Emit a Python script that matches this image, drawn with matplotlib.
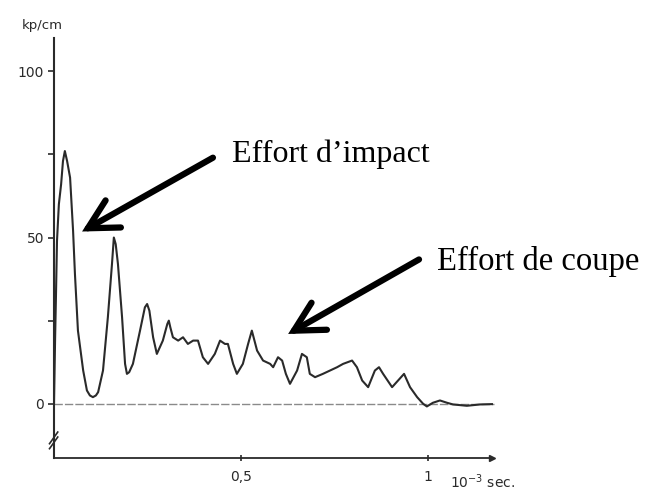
import matplotlib
matplotlib.use("Agg")
from matplotlib import pyplot as plt

temps = [0.000, 0.003, 0.005, 0.008, 0.013, 0.019, 0.024, 0.029, 0.035, 0.043,
         0.051, 0.056, 0.064, 0.078, 0.088, 0.096, 0.104, 0.112, 0.118, 0.131,
         0.144, 0.155, 0.160, 0.165, 0.171, 0.182, 0.190, 0.195, 0.201, 0.211,
         0.230, 0.243, 0.249, 0.255, 0.265, 0.275, 0.291, 0.303, 0.307, 0.311,
         0.318, 0.332, 0.345, 0.358, 0.372, 0.385, 0.398, 0.412, 0.430, 0.444,
         0.457, 0.465, 0.479, 0.489, 0.505, 0.519, 0.529, 0.543, 0.559, 0.578,
         0.586, 0.599, 0.610, 0.620, 0.631, 0.650, 0.663, 0.676, 0.684, 0.698,
         0.719, 0.738, 0.757, 0.773, 0.797, 0.810, 0.824, 0.840, 0.858, 0.869,
         0.880, 0.904, 0.920, 0.936, 0.952, 0.971, 0.987, 0.997, 1.013, 1.032,
         1.051, 1.067, 1.104, 1.139, 1.171]
effort = [0, 20, 31, 49, 60, 66, 73, 76, 73, 68,
          52, 39, 22, 10, 4, 2.5, 2, 2.5, 3.5, 10,
          26, 42, 50, 48, 42, 26, 12, 9, 9.5, 12,
          22, 29, 30, 28, 20, 15, 19, 24, 25, 23,
          20, 19, 20, 18, 19, 19, 14, 12, 15, 19,
          18, 18, 12, 9, 12, 18, 22, 16, 13, 12,
          11, 14, 13, 9, 6, 10, 15, 14, 9, 8,
          9, 10, 11, 12, 13, 11, 7, 5, 10, 11,
          9, 5, 7, 9, 5, 2, 0, -0.8, 0.3, 1,
          0.3, -0.2, -0.6, -0.2, -0.1]

y_ticks = [0, 25, 50, 75, 100]
y_labels = ["0", "", "50", "", "100"]
x_ticks = [0.5, 1.0]
x_labels = ["0,5", "1"]

fig = plt.figure(figsize=(6.46, 4.93), dpi=100)
ax = fig.add_axes([0.0836, 0.071, 0.6947, 0.852])

encre = "#2a2a2a"

# ligne du zero
ax.plot([0, 1.176], [0, 0], color="#8a8a8a", lw=1.0, dashes=(6, 1.5))
# courbe
ax.plot(temps, effort, color=encre, lw=1.5, solid_joinstyle="round")

ax.set_xlim(0, 1.2)
ax.set_ylim(-16.3, 110)

for s in ["top", "right"]:
    ax.spines[s].set_visible(False)
ax.spines["left"].set_color(encre)
ax.spines["left"].set_linewidth(1.5)
ax.spines["bottom"].set_color(encre)
ax.spines["bottom"].set_linewidth(1.3)
ax.spines["bottom"].set_bounds(0, 1.17)
ax.plot([1.172], [-16.3], marker=">", color=encre, markersize=5, clip_on=False)

# coupure de l'axe
for dv in [0, 1.5]:
    ax.plot([-0.012, 0.010], [-13.5 + dv, -10 + dv], color=encre, lw=1.2, clip_on=False)

ax.set_yticks(y_ticks)
ax.set_yticklabels(y_labels)
ax.tick_params(axis="y", direction="out", length=4, width=1.2, colors=encre,
               labelsize=10, pad=3)
ax.set_xticks(x_ticks)
ax.set_xticklabels(x_labels)
ax.tick_params(axis="x", direction="inout", length=5, width=1.2, colors=encre,
               labelsize=10, pad=6)

ax.text(1.06, -20.5, "10$^{-3}$ sec.", fontsize=10, color=encre, va="top", ha="left",
        clip_on=False)
fig.text(0.034, 0.948, "kp/cm", fontsize=9.5, color=encre, va="center", ha="left")

fleche = dict(arrowstyle="->,head_length=0.75,head_width=0.4", lw=4.5, color="black",
              mutation_scale=28, shrinkA=0, shrinkB=0, joinstyle="miter")
ax.annotate("", xy=(0.075, 51.8), xytext=(0.425, 74), arrowprops=fleche)
ax.annotate("", xy=(0.626, 21), xytext=(0.976, 43.4), arrowprops=fleche,
            annotation_clip=False)

ax.text(0.476, 75, "Effort d\u2019impact", fontsize=23, family="Liberation Serif",
        va="center", ha="left")
ax.text(1.024, 42.8, "Effort de coupe", fontsize=23.5, family="Liberation Serif",
        va="center", ha="left", clip_on=False)

fig.savefig("out.png", dpi=100)
